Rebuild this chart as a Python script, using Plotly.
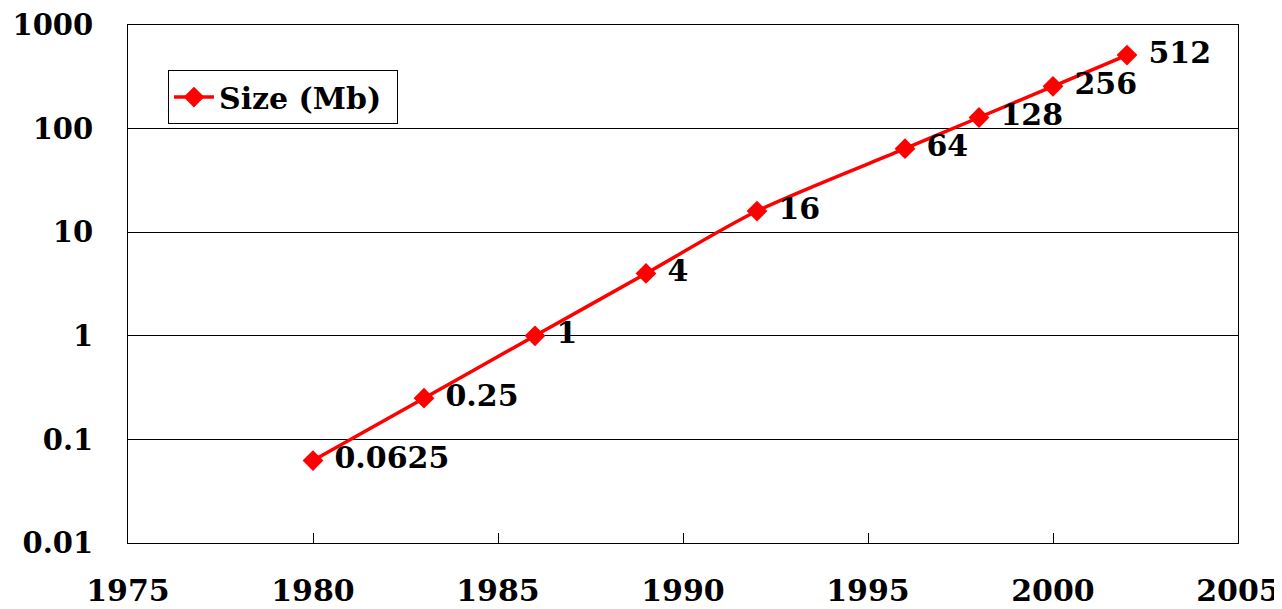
import plotly.graph_objects as go

years = [1980, 1983, 1986, 1989, 1992, 1996, 1998, 2000, 2002]
size_mb = [0.0625, 0.25, 1, 4, 16, 64, 128, 256, 512]
labels = ["0.0625", "0.25", "1", "4", "16", "64", "128", "256", "512"]
x_ticks = [1975, 1980, 1985, 1990, 1995, 2000, 2005]
y_ticks = [0.01, 0.1, 1, 10, 100, 1000]
y_tick_text = ["0.01", "0.1", "1", "10", "100", "1000"]

FONT = "DejaVu Serif"
FS = 30

fig = go.Figure()
fig.add_trace(go.Scatter(
    x=years, y=size_mb, name="Size (Mb) ",
    mode="lines+markers+text",
    text=[" " + t for t in labels], textposition="middle right",
    textfont=dict(family=FONT, size=FS, color="black", weight="bold"),
    line=dict(color="#ff0000", width=3.5, shape="spline", smoothing=0.8),
    marker=dict(symbol="diamond", size=16, color="#ff0000"),
))

# page has an 8px body margin: figure is offset by (8, 8)
fig.update_layout(
    width=1274, height=601,
    margin=dict(l=120, r=44, t=17, b=66),
    plot_bgcolor="white", paper_bgcolor="white",
    font=dict(family=FONT, size=FS, color="black", weight="bold"),
    showlegend=True,
    legend=dict(x=0.036, y=0.913, xanchor="left", yanchor="top",
                bordercolor="black", borderwidth=1, bgcolor="white",
                font=dict(family=FONT, size=FS, weight="bold"),
                itemwidth=40, tracegroupgap=0),
)
fig.update_xaxes(
    range=[1975, 2005], tickvals=x_ticks, ticktext=[str(v) for v in x_ticks],
    showgrid=False, showline=True, linecolor="black", linewidth=1, mirror=True,
    ticks="inside", ticklen=10, tickcolor="black", ticklabelstandoff=21,
    ticklabeloverflow="allow",
    zeroline=False, automargin=False,
)
fig.update_yaxes(
    type="log", range=[-2, 3], tickvals=y_ticks, ticktext=y_tick_text,
    tickfont=dict(family=FONT, size=29, weight="bold"),
    showgrid=True, gridcolor="black", gridwidth=1,
    showline=True, linecolor="black", linewidth=1, mirror=True,
    ticks="inside", ticklen=8, tickcolor="black", ticklabelstandoff=28,
    ticklabeloverflow="allow",
    zeroline=False, automargin=False,
)

fig.write_html("out.html")
